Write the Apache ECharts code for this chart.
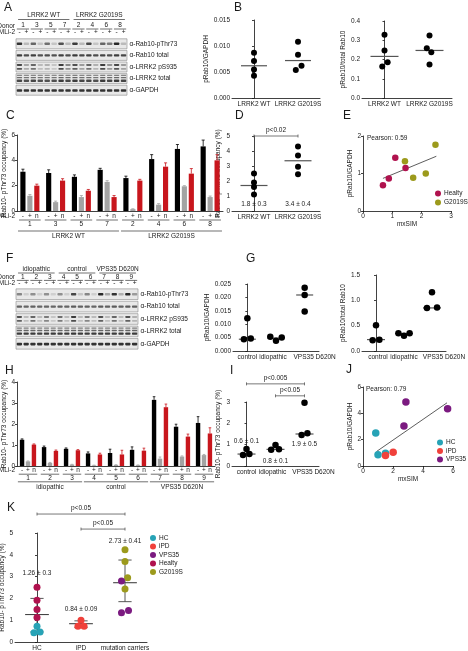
<!DOCTYPE html>
<html><head><meta charset="utf-8">
<script src="https://cdn.jsdelivr.net/npm/echarts@6/dist/echarts.min.js"></script>
<style>html,body{margin:0;padding:0;background:#fff;}#c{width:468px;height:651px;}</style>
</head><body><div id="c"></div>
<script>
// ================= DATA =================
// Panel A (western blot, band intensities 0..1 per lane)
const blotRows = ['α-Rab10-pThr73','α-Rab10 total','α-LRRK2 pS935','α-LRRK2 total','α-GAPDH'];
const blotMli = ['-','+'];
const blotADonors = ['1','3','5','7','2','4','6','8'];
const blotAGroups = ['LRRK2 WT','LRRK2 G2019S'];
const blotAGroupDonors = [[0,3],[4,7]];
const blotABands = [
  [0.85,0.2,0.6,0.15,0.55,0.15,0.7,0.2,0.8,0.2,0.75,0.15,0.6,0.5,0.9,0.2],
  [0.8,0.72,0.78,0.7,0.72,0.7,0.78,0.72,0.8,0.75,0.78,0.72,0.76,0.72,0.8,0.75],
  [0.75,0.3,0.6,0.2,0.25,0.15,0.8,0.45,0.7,0.35,0.6,0.25,0.8,0.4,0.75,0.35],
  [0.75,0.7,0.75,0.7,0.7,0.7,0.8,0.75,0.8,0.75,0.75,0.7,0.8,0.75,0.8,0.75],
  [0.85,0.85,0.85,0.85,0.85,0.85,0.85,0.85,0.85,0.85,0.85,0.85,0.85,0.85,0.85,0.85]
];
// Panel F blot
const blotFDonors = ['1','2','3','4','5','6','7','8','9'];
const blotFGroups = ['idiopathic','control','VPS35 D620N'];
const blotFGroupDonors = [[0,2],[3,5],[6,8]];
const blotFBands = [
  [0.45,0.1,0.4,0.1,0.4,0.1,0.4,0.1,0.75,0.15,0.45,0.1,0.9,0.3,0.85,0.25,0.9,0.35],
  [0.62,0.6,0.62,0.6,0.6,0.6,0.62,0.6,0.65,0.62,0.62,0.6,0.65,0.62,0.65,0.62,0.65,0.62],
  [0.7,0.2,0.6,0.2,0.5,0.15,0.55,0.2,0.8,0.2,0.5,0.2,0.7,0.2,0.6,0.2,0.7,0.25],
  [0.8,0.8,0.8,0.78,0.8,0.8,0.8,0.8,0.82,0.8,0.8,0.8,0.82,0.8,0.8,0.8,0.82,0.8],
  [0.85,0.85,0.85,0.85,0.85,0.85,0.85,0.85,0.85,0.85,0.85,0.85,0.85,0.85,0.85,0.85,0.85,0.85]
];
// Panel B
const bCats = ['LRRK2 WT','LRRK2 G2019S'];
const bLeftWT = [0.0087,0.0071,0.0055,0.0043];
const bLeftWTJit = [0,0,0,0];
const bLeftG = [0.0108,0.0083,0.0062,0.0054];
const bLeftGJit = [0,0,0.08,-0.05];
const bLeftMed = [0.0062,0.0072];
const bRightWT = [0.328,0.247,0.186,0.163];
const bRightWTJit = [0,0,0.07,-0.05];
const bRightG = [0.325,0.259,0.238,0.174];
const bRightGJit = [0,-0.06,0.04,0];
const bRightMed = [0.216,0.247];
// Panel C (bars: MLi-2 -, +, n)
const mliStates = ['-','+','n'];
const cDonors = ['1','3','5','7','2','4','6','8'];
const cGroups = ['LRRK2 WT','LRRK2 G2019S'];
const cGroupDonors = [[0,3],[4,7]];
const cMinus = [3.1,3.0,2.7,3.25,2.6,4.1,4.9,5.1];
const cMinusErr = [0.2,0.25,0.15,0.12,0.15,0.35,0.35,0.5];
const cPlus = [1.2,0.7,1.1,2.3,0.15,0.5,1.95,1.1];
const cPlusErr = [0.1,0.08,0.12,0.1,0.03,0.08,0.05,0.08];
const cN = [2.0,2.4,1.6,1.1,2.4,3.5,2.95,4.0];
const cNErr = [0.12,0.15,0.1,0.12,0.1,0.3,0.4,0.45];
// Panel D
const dCats = ['LRRK2 WT','LRRK2 G2019S'];
const dWT = [2.5,1.9,1.6,1.1];
const dG = [4.3,3.7,2.95,2.45];
const dMean = [1.7,3.35];
const dLabels = ['1.8 ± 0.3','3.4 ± 0.4'];
const dP = 'p<0.02';
// Panel E
const eHealty = [[0.68,0.69],[0.88,0.87],[1.1,1.42],[1.45,1.15]];
const eG2019S = [[1.43,1.33],[1.71,0.89],[2.14,1.0],[2.47,1.77]];
const eFit = [[0.68,0.87],[2.5,1.46]];
const ePearson = 'Pearson: 0.59';
// Panel G
const gCats = ['control','idiopathic','VPS35 D620N'];
const gLeftVals = [[0.0044,0.0047,0.0122],[0.0053,0.0038,0.0050],[0.0236,0.0209,0.0147]];
const gLeftJit = [[-0.12,0.12,0],[-0.2,0,0.2],[0,0,0]];
const gLeftMed = [0.0044,0.0048,0.0209];
const gRightVals = [[0.51,0.21,0.22],[0.35,0.30,0.35],[1.16,0.85,0.86]];
const gRightJit = [[0,-0.12,0.12],[-0.2,0,0.2],[0,-0.18,0.18]];
const gRightMed = [0.225,0.345,0.85];
// Panel H
const hDonors = ['1','2','3','4','5','6','7','8','9'];
const hGroups = ['idiopathic','control','VPS35 D620N'];
const hGroupDonors = [[0,2],[3,5],[6,8]];
const hMinus = [1.25,0.9,0.82,0.6,0.62,0.77,3.15,1.87,2.05];
const hMinusErr = [0.04,0.05,0.04,0.07,0.18,0.14,0.15,0.12,0.3];
const hPlus = [0.22,0.15,0.07,0.03,0.05,0.04,0.35,0.45,0.52];
const hPlusErr = [0.02,0.02,0.01,0.01,0.01,0.01,0.08,0.03,0.03];
const hN = [1.02,0.72,0.75,0.55,0.55,0.73,2.8,1.4,1.55];
const hNErr = [0.03,0.04,0.03,0.06,0.2,0.12,0.15,0.12,0.27];
// Panel I
const iCats = ['control','idiopathic','VPS35 D620N'];
const iVals = [[0.8,0.52,0.56],[0.98,0.76,0.78],[2.96,1.45,1.53]];
const iJit = [[0,-0.12,0.1],[0,-0.15,0.12],[0,-0.1,0.1]];
const iMean = [0.56,0.78,1.5];
const iLabels = ['0.6 ± 0.1','0.8 ± 0.1','1.9 ± 0.5'];
const iLabelAt = [1.17,0.22,1.03];
const iBrackets = [[0,2,3.85,'p<0.005'],[1,2,3.29,'p<0.05']];
// Panel J
const jHC = [[0.85,2.51],[1.0,0.85],[1.5,0.97]];
const jIPD = [[1.5,0.8],[2.01,1.05]];
const jVPS35 = [[2.86,4.87],[2.73,3.03],[5.64,4.35]];
const jFit = [[0.9,1.1],[5.6,4.8]];
const jPearson = 'Pearson: 0.79';
// Panel K
const kCats = ['HC','iPD','mutation carriers'];
const kHealty = [2.51,1.92,1.49,1.12];
const kHealtyJit = [0,0,0,0];
const kHC = [0.72,0.43,0.46];
const kHCJit = [0,-0.07,0.07];
const kIPD = [1.0,0.72,0.72];
const kIPDJit = [0,-0.07,0.07];
const kG2019S = [4.23,3.69,2.95,2.43];
const kG2019SJit = [0,0,0.06,0];
const kVPS35 = [2.8,1.34,1.44];
const kVPS35Jit = [-0.08,-0.08,0.08];
const kMean = [1.26,0.84,2.72];
const kLow = [0.46,0.66,1.85];
const kHigh = [2.0,0.97,3.76];
const kLabels = ['1.26 ± 0.3','0.84 ± 0.09','2.73 ± 0.41'];
const kLabelAt = [3.17,1.51,4.63];
const kBrackets = [[0,2,5.87,'p<0.05'],[1,2,5.18,'p<0.05']];

// ================= STYLE =================
const FONT = '"Liberation Sans", Arial, Helvetica, sans-serif';
const FS = 6.5;
const TXT = '#1a1a1a';
const AXC = '#111';
const COL = {Healty:'#b0124e', G2019S:'#9c9a1c', HC:'#27a3b6', iPD:'#f0413b', VPS35:'#7b1a80'};
const barColors = ['#000000','#a3a3a3','#c8161d'];
const AL = {show:true, lineStyle:{color:AXC, width:0.8}};
const txt = (e) => Object.assign({fontSize:FS, fontFamily:FONT, color:TXT}, e||{});
const tstyle = (text,x,y,align,extra) => Object.assign({text, x, y, align:align||'center', verticalAlign:'middle', fontSize:FS, fontFamily:FONT, fill:TXT}, extra||{});

const grids=[], xAxes=[], yAxes=[], series=[], legends=[];
function addGrid(r){ grids.push({left:r[0], top:r[1], width:r[2], height:r[3], containLabel:false, outerBoundsMode:'none'}); return grids.length-1; }
function yVal(g,max,step,dec,name,gap){
  yAxes.push({type:'value', gridIndex:g, min:0, max:max, interval:step, axisLine:AL,
    axisTick:{show:true, length:2, lineStyle:{color:AXC, width:0.8}},
    axisLabel:txt({margin:2, formatter:v=>v.toFixed(dec)}), splitLine:{show:false},
    name:name, nameLocation:'middle', nameGap:gap, nameRotate:90, nameTextStyle:txt()});
  return yAxes.length-1;
}

// ---------- blot ----------
const bandShapes = [
  [[0,2.6,1]],
  [[0,2.4,1]],
  [[-2,1.8,1],[1.8,1.8,0.9]],
  [[-3.3,1.3,0.6],[-0.9,1.3,0.75],[2.2,2.4,1]],
  [[0.3,2.6,1]]
];
function blotPanel(rect, donors, groups, groupDonors, bands, lay){
  const g = addGrid(rect);
  const lanes = []; donors.forEach(()=>lanes.push(...blotMli));
  xAxes.push({type:'category', gridIndex:g, data:lanes, position:'top', axisLine:{show:false}, axisTick:{show:false}, axisLabel:txt({interval:0, margin:lay.mm})});
  const xa = xAxes.length-1;
  yAxes.push({type:'category', gridIndex:g, data:blotRows, inverse:true, position:'right', axisLine:{show:false}, axisTick:{show:false}, axisLabel:txt({margin:2.5})});
  const ya = yAxes.length-1;
  series.push({type:'custom', xAxisIndex:xa, yAxisIndex:ya, clip:false, silent:true, z:1,
    data: blotRows.map((_,r)=>[0,r]),
    renderItem:(params,api)=>{
      const c = api.coord([0,api.value(1)]); const h = api.size([0,1])[1]; const cs = params.coordSys;
      return {type:'rect', shape:{x:cs.x, y:c[1]-h*0.43, width:cs.width, height:h*0.86}, style:{fill:'#e8e8e8', stroke:'#8a8a8a', lineWidth:0.6}};
    }});
  const bd = []; bands.forEach((row,r)=>row.forEach((v,l)=>bd.push([l,r,v])));
  series.push({type:'custom', xAxisIndex:xa, yAxisIndex:ya, clip:false, silent:true, z:2, data:bd,
    renderItem:(params,api)=>{
      const lane=api.value(0), row=api.value(1), v=api.value(2);
      const c = api.coord([lane,row]); const bw = api.size([1,0])[0]*0.78;
      return {type:'group', children: bandShapes[row].map(s=>{
        const gr = Math.round(228 - Math.min(1,v*s[2])*210);
        return {type:'rect', shape:{x:c[0]-bw/2, y:c[1]+s[0]-s[1]/2, width:bw, height:s[1], r:0.8}, style:{fill:`rgb(${gr},${gr},${gr})`}};
      })};
    }});
  series.push({type:'custom', xAxisIndex:xa, yAxisIndex:ya, clip:false, silent:true, data:donors.map((_,i)=>[i,0]),
    renderItem:(params,api)=>{
      const i=api.value(0); const a=api.coord([2*i,0]), b=api.coord([2*i+1,0]); const band=api.size([1,0])[0]; const top=params.coordSys.y;
      return {type:'group', children:[
        {type:'text', style:tstyle(donors[i],(a[0]+b[0])/2, top+lay.dt)},
        {type:'line', shape:{x1:a[0]-band*0.38, y1:top+lay.dl, x2:b[0]+band*0.38, y2:top+lay.dl}, style:{stroke:'#333', lineWidth:0.7}}
      ]};
    }});
  series.push({type:'custom', xAxisIndex:xa, yAxisIndex:ya, clip:false, silent:true, data:groups.map((_,i)=>[i,0]),
    renderItem:(params,api)=>{
      const i=api.value(0); const gd=groupDonors[i];
      const a=api.coord([2*gd[0],0]), b=api.coord([2*gd[1]+1,0]); const band=api.size([1,0])[0]; const top=params.coordSys.y;
      return {type:'group', children:[
        {type:'text', style:tstyle(groups[i],(a[0]+b[0])/2, top+lay.gt)},
        {type:'line', shape:{x1:a[0]-band*0.2, y1:top+lay.gl, x2:b[0]+band*0.2, y2:top+lay.gl}, style:{stroke:'#333', lineWidth:0.7}}
      ]};
    }});
}

// ---------- bars ----------
function barPanel(rect, donors, groups, groupDonors, m, me, p, pe, n, ne, lay){
  const g = addGrid(rect);
  xAxes.push({type:'category', gridIndex:g, data:donors, axisLine:AL, axisTick:{show:false}, axisLabel:{show:false}});
  const xa = xAxes.length-1;
  const ya = yVal(g, lay.max, lay.step, 0, 'Rab10- pThr73 occupancy (%)', 8);
  const data = [];
  donors.forEach((_,i)=>{ data.push([i,m[i],me[i],0]); data.push([i,p[i],pe[i],1]); data.push([i,n[i],ne[i],2]); });
  series.push({type:'custom', xAxisIndex:xa, yAxisIndex:ya, clip:false, silent:true, data:data,
    renderItem:(params,api)=>{
      const i=api.value(0), v=api.value(1), e=api.value(2), k=api.value(3);
      const band=api.size([1,0])[0]; const bw=band*0.2, off=(k-1)*band*0.27;
      const base=api.coord([i,0]), top=api.coord([i,v]), et=api.coord([i,v+e]);
      const x=base[0]+off, col=barColors[k];
      return {type:'group', children:[
        {type:'line', shape:{x1:x, y1:top[1], x2:x, y2:et[1]}, style:{stroke:col, lineWidth:0.8}},
        {type:'line', shape:{x1:x-bw*0.3, y1:et[1], x2:x+bw*0.3, y2:et[1]}, style:{stroke:col, lineWidth:0.8}},
        {type:'rect', shape:{x:x-bw/2, y:top[1], width:bw, height:base[1]-top[1]}, style:{fill:col}},
        {type:'text', style:tstyle(mliStates[k], x, base[1]+lay.mli)}
      ]};
    }});
  series.push({type:'custom', xAxisIndex:xa, yAxisIndex:ya, clip:false, silent:true, data:donors.map((_,i)=>[i,0]),
    renderItem:(params,api)=>{
      const i=api.value(0); const band=api.size([1,0])[0]; const base=api.coord([i,0]);
      return {type:'group', children:[
        {type:'line', shape:{x1:base[0]-band*0.42, y1:base[1]+lay.ul, x2:base[0]+band*0.42, y2:base[1]+lay.ul}, style:{stroke:'#333', lineWidth:0.7}},
        {type:'text', style:tstyle(donors[i], base[0], base[1]+lay.num)}
      ]};
    }});
  series.push({type:'custom', xAxisIndex:xa, yAxisIndex:ya, clip:false, silent:true, data:groups.map((_,i)=>[i,0]),
    renderItem:(params,api)=>{
      const gi=api.value(0); const gd=groupDonors[gi]; const band=api.size([1,0])[0];
      const a=api.coord([gd[0],0]), b=api.coord([gd[1],0]); const x1=a[0]-band*0.46, x2=b[0]+band*0.46;
      return {type:'group', children:[
        {type:'line', shape:{x1:x1, y1:a[1]+lay.gl, x2:x2, y2:a[1]+lay.gl}, style:{stroke:'#333', lineWidth:0.7}},
        {type:'text', style:tstyle(groups[gi], (x1+x2)/2, a[1]+lay.gt)}
      ]};
    }});
}

// ---------- dot plots ----------
function dotPanel(o){
  const g = addGrid(o.rect);
  const shift = o.shift || [];
  const rich = {};
  shift.forEach((s,i)=>{ rich['s'+i] = txt({padding: s>0 ? [0,0,0,2*s] : [0,-2*s,0,0]}); });
  xAxes.push({type:'category', gridIndex:g, data:o.cats, axisLine:AL, axisTick:{show:false},
    axisLabel:txt({interval:0, margin:3, rich:rich, formatter:(v,i)=> shift[i] ? `{s${i}|${v}}` : v})});
  xAxes.push({type:'value', gridIndex:g, min:-0.5, max:o.cats.length-0.5, show:false});
  const xv = xAxes.length-1;
  const ya = yVal(g, o.max, o.step, o.dec, o.yName, o.gap);
  return {g:g, xv:xv, ya:ya};
}
function dots(p, cat, vals, jit, color, size, name){
  series.push({type:'scatter', name:name, xAxisIndex:p.xv, yAxisIndex:p.ya, clip:false, symbolSize:size, z:4,
    itemStyle:{color:color, opacity:1}, data: vals.map((v,j)=>[cat+jit[j], v])});
}
function medLines(p, meds, w){
  series.push({type:'scatter', xAxisIndex:p.xv, yAxisIndex:p.ya, clip:false, silent:true, symbol:'rect', symbolSize:[w,1.2], z:3,
    itemStyle:{color:'#555', opacity:1}, data: meds.map((m,i)=>[i,m])});
}
function labelsSeries(p, items){
  series.push({type:'custom', xAxisIndex:p.xv, yAxisIndex:p.ya, clip:false, silent:true, data:items.map((it,j)=>[it[0],it[1],j]),
    renderItem:(params,api)=>{ const c=api.coord([api.value(0),api.value(1)]); return {type:'text', style:tstyle(items[api.value(2)][2], c[0], c[1])}; }});
}
function bracketSeries(p, br){
  series.push({type:'custom', xAxisIndex:p.xv, yAxisIndex:p.ya, clip:false, silent:true, data:br.map((b,j)=>[b[0],b[2],b[1],j]),
    renderItem:(params,api)=>{
      const a=api.coord([api.value(0),api.value(1)]), b=api.coord([api.value(2),api.value(1)]);
      return {type:'group', children:[
        {type:'line', shape:{x1:a[0], y1:a[1], x2:b[0], y2:b[1]}, style:{stroke:'#555', lineWidth:0.8}},
        {type:'line', shape:{x1:a[0], y1:a[1]-1.5, x2:a[0], y2:a[1]+1.5}, style:{stroke:'#555', lineWidth:0.8}},
        {type:'line', shape:{x1:b[0], y1:b[1]-1.5, x2:b[0], y2:b[1]+1.5}, style:{stroke:'#555', lineWidth:0.8}},
        {type:'text', style:tstyle(br[api.value(3)][3], (a[0]+b[0])/2, a[1]-5.5)}
      ]};
    }});
}
function xyPanel(o){
  const g = addGrid(o.rect);
  xAxes.push({type:'value', gridIndex:g, min:0, max:o.xmax, interval:o.xstep, axisLine:AL,
    axisTick:{show:true, length:2, lineStyle:{color:AXC, width:0.8}}, axisLabel:txt({margin:2}), splitLine:{show:false},
    name:'mxSIM', nameLocation:'middle', nameGap:10, nameTextStyle:txt()});
  const xa = xAxes.length-1;
  const ya = yVal(g, o.ymax, o.ystep, 0, 'pRab10/GAPDH', 7);
  return {g:g, xa:xa, ya:ya};
}
function xyDots(p, pts, color, size, name){
  series.push({type:'scatter', name:name, xAxisIndex:p.xa, yAxisIndex:p.ya, clip:false, symbolSize:size, z:4, itemStyle:{color:color, opacity:1}, data:pts});
}
function xyFit(p, pts){
  series.push({type:'line', xAxisIndex:p.xa, yAxisIndex:p.ya, silent:true, symbol:'none', z:3, lineStyle:{color:'#333', width:0.8}, data:pts});
}
function legend(left, top, names, gap){
  legends.push({left:left, top:top, orient:'vertical', padding:0, itemGap:gap, itemWidth:6, itemHeight:6, icon:'circle',
    selectedMode:false, textStyle:txt({padding:[0,0,0,-2]}), data:names});
}

// ================= BUILD =================
// A
blotPanel([16,38,111,58], blotADonors, blotAGroups, blotAGroupDonors, blotABands, {mm:2, dt:-12.5, dl:-9, gt:-23, gl:-18.5});
// B
let p = dotPanel({rect:[232,20,88,78], cats:bCats, max:0.015, step:0.005, dec:3, yName:'pRab10/GAPDH', gap:19});
medLines(p, bLeftMed, 26);
dots(p, 0, bLeftWT, bLeftWTJit, '#000', 6, 'bl0'); dots(p, 1, bLeftG, bLeftGJit, '#000', 6, 'bl1');
p = dotPanel({rect:[362,21,90,77], cats:bCats, max:0.4, step:0.1, dec:1, yName:'pRab10/total Rab10', gap:12});
medLines(p, bRightMed, 28);
dots(p, 0, bRightWT, bRightWTJit, '#000', 6, 'br0'); dots(p, 1, bRightG, bRightGJit, '#000', 6, 'br1');
// C
barPanel([17,135,206,76], cDonors, cGroups, cGroupDonors, cMinus, cMinusErr, cPlus, cPlusErr, cN, cNErr,
  {max:6, step:2, mli:4.8, ul:9, num:13.3, gl:20, gt:24.8});
// D
p = dotPanel({rect:[232,136,88,75], cats:dCats, max:5, step:1, dec:0, yName:'Rab10- pThr73 occupancy (%)', gap:10});
medLines(p, dMean, 27);
dots(p, 0, dWT, [0,0,0,0], '#000', 6, 'd0'); dots(p, 1, dG, [0,0,0,0], '#000', 6, 'd1');
labelsSeries(p, [[0,0.47,dLabels[0]],[1,0.47,dLabels[1]]]);
bracketSeries(p, [[0,1,5.0,dP]]);
// E
p = xyPanel({rect:[363,136,88,75], xmax:3, xstep:1, ymax:2, ystep:1});
xyFit(p, eFit);
xyDots(p, eHealty, COL.Healty, 6.5, 'Healty'); xyDots(p, eG2019S, COL.G2019S, 6.5, 'G2019S');
legend(435, 190, ['Healty','G2019S'], 2);
// F
blotPanel([16,288,122,62], blotFDonors, blotFGroups, blotFGroupDonors, blotFBands, {mm:1.5, dt:-10.5, dl:-7.6, gt:-19, gl:-15});
// G
p = dotPanel({rect:[233,284,86,67], cats:gCats, max:0.025, step:0.005, dec:3, yName:'pRab10/GAPDH', gap:19, shift:[0,-3,10]});
medLines(p, gLeftMed, 17);
gLeftVals.forEach((v,i)=>dots(p, i, v, gLeftJit[i], '#000', 6.5, 'gl'+i));
p = dotPanel({rect:[362,275,84,76], cats:gCats, max:1.5, step:0.5, dec:1, yName:'pRab10/total Rab10', gap:12, shift:[2,0,12]});
medLines(p, gRightMed, 18);
gRightVals.forEach((v,i)=>dots(p, i, v, gRightJit[i], '#000', 6.5, 'gr'+i));
// H
barPanel([17,382,198,84], hDonors, hGroups, hGroupDonors, hMinus, hMinusErr, hPlus, hPlusErr, hN, hNErr,
  {max:4, step:1, mli:4.2, ul:8.2, num:11.8, gl:15.8, gt:20.8});
// I
p = dotPanel({rect:[232,402,87,64], cats:iCats, max:3, step:1, dec:0, yName:'Rab10- pThr73 occupancy (%)', gap:10, shift:[0,-3,9]});
medLines(p, iMean, 18);
iVals.forEach((v,i)=>dots(p, i, v, iJit[i], '#000', 6.5, 'i'+i));
labelsSeries(p, iLabels.map((t,i)=>[i,iLabelAt[i],t]));
bracketSeries(p, iBrackets);
// J
p = xyPanel({rect:[363,387,90,79], xmax:6, xstep:2, ymax:6, ystep:2});
xyFit(p, jFit);
xyDots(p, jHC, COL.HC, 7.5, 'HC'); xyDots(p, jIPD, COL.iPD, 7.5, 'iPD'); xyDots(p, jVPS35, COL.VPS35, 7.5, 'VPS35');
legend(437, 439, ['HC','iPD','VPS35'], 1.5);
// K
p = dotPanel({rect:[15,533,132,109], cats:kCats, max:5, step:1, dec:0, yName:'Rab10- pThr73 occupancy (%)', gap:7});
series.push({type:'custom', xAxisIndex:p.xv, yAxisIndex:p.ya, clip:false, silent:true, z:3,
  data:kMean.map((m,i)=>[i,m,kLow[i],kHigh[i]]),
  renderItem:(params,api)=>{
    const i=api.value(0); const m=api.coord([i,api.value(1)]), lo=api.coord([i,api.value(2)]), hi=api.coord([i,api.value(3)]);
    const band=api.size([1,0])[0]; const st={stroke:'#444', lineWidth:0.9};
    return {type:'group', children:[
      {type:'line', shape:{x1:m[0], y1:lo[1], x2:m[0], y2:hi[1]}, style:st},
      {type:'line', shape:{x1:m[0]-band*0.27, y1:m[1], x2:m[0]+band*0.27, y2:m[1]}, style:{stroke:'#444', lineWidth:1.1}},
      {type:'line', shape:{x1:m[0]-band*0.15, y1:lo[1], x2:m[0]+band*0.15, y2:lo[1]}, style:st},
      {type:'line', shape:{x1:m[0]-band*0.15, y1:hi[1], x2:m[0]+band*0.15, y2:hi[1]}, style:st}
    ]};
  }});
dots(p, 0, kHealty, kHealtyJit, COL.Healty, 7, 'Healty');
dots(p, 0, kHC, kHCJit, COL.HC, 7, 'HC');
dots(p, 1, kIPD, kIPDJit, COL.iPD, 7, 'iPD');
dots(p, 2, kG2019S, kG2019SJit, COL.G2019S, 7, 'G2019S');
dots(p, 2, kVPS35, kVPS35Jit, COL.VPS35, 7, 'VPS35');
labelsSeries(p, kLabels.map((t,i)=>[i,kLabelAt[i],t]));
bracketSeries(p, kBrackets);
legend(150, 534.5, ['HC','iPD','VPS35','Healty','G2019S'], 1.5);

// ================= TEXT ANNOTATIONS =================
const gtext = (t,x,y,size,align) => ({type:'text', x:x, y:y, silent:true, style:{text:t, fill:TXT, fontSize:size||FS, fontFamily:FONT, align:align||'left', verticalAlign:'middle'}});
const graphic = [
  gtext('A',4,8,12), gtext('B',234,8,12), gtext('C',6,116,12), gtext('D',235,116,12), gtext('E',343,116,12),
  gtext('F',6,259,12), gtext('G',246,259,12), gtext('H',5,371,12), gtext('I',230,371,12), gtext('J',346,370,12), gtext('K',7,508,12),
  gtext('Donor',15,26,FS,'right'), gtext('MLi-2',15,32,FS,'right'),
  gtext('Donor',15,277.5,FS,'right'), gtext('MLi-2',15,283,FS,'right'),
  gtext('MLi-2',15,215.8,FS,'right'), gtext('MLi-2',15,470.2,FS,'right'),
  gtext(ePearson,367,138), gtext(jPearson,366,389)
];

const chart = echarts.init(document.getElementById('c'), null, {renderer:'canvas'});
chart.setOption({
  animation:false, backgroundColor:'#fff',
  textStyle:{fontFamily:FONT},
  grid:grids, xAxis:xAxes, yAxis:yAxes, series:series, legend:legends, graphic:graphic
});
</script></body></html>
